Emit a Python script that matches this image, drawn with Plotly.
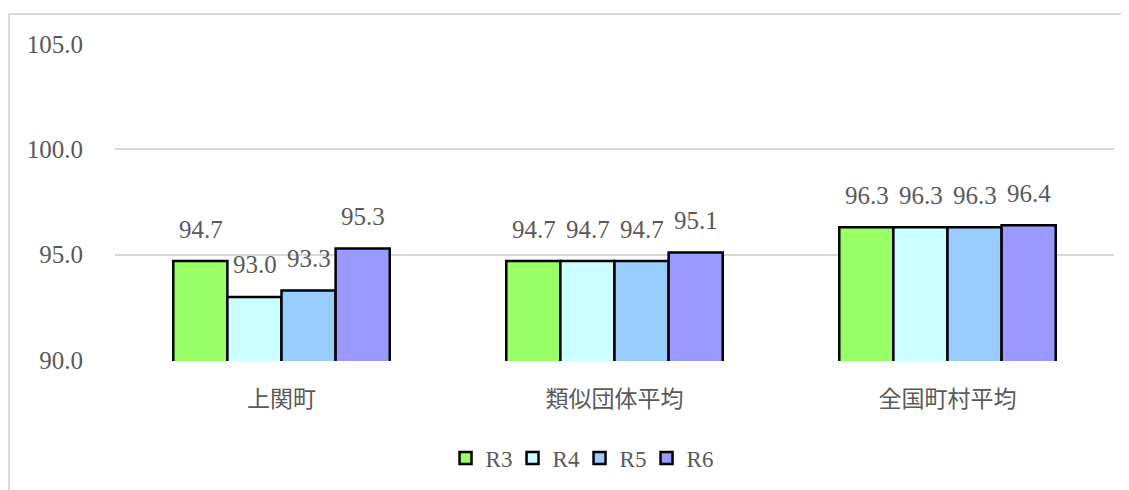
import plotly.graph_objects as go

categories = ["上関町", "類似団体平均", "全国町村平均"]
series_names = ["R3", "R4", "R5", "R6"]
r3 = [94.7, 94.7, 96.3]
r4 = [93.0, 94.7, 96.3]
r5 = [93.3, 94.7, 96.3]
r6 = [95.3, 95.1, 96.4]
series_values = [r3, r4, r5, r6]
colors = ["#99FF66", "#CCFFFF", "#99CCFF", "#9999FF"]
y_ticks = [90, 95, 100, 105]

FONT = "Liberation Serif, Noto Sans CJK JP, serif"
GREY = "#595959"

fig = go.Figure()
for name, vals, col in zip(series_names, series_values, colors):
    fig.add_trace(go.Bar(
        x=categories, y=vals, name=name,
        marker=dict(color=col, line=dict(color="black", width=2.5)),
    ))

# data labels above bars
bar_px = 54
for i, vals in enumerate(series_values):
    for c, v in zip(categories, vals):
        fig.add_annotation(
            x=c, y=v, text=f"{v:.1f}", showarrow=False,
            xshift=(i - 1.5) * bar_px, yshift=32,
            font=dict(family=FONT, size=25, color=GREY),
            xref="x", yref="y",
        )

# outer chart border
fig.add_shape(type="rect", xref="paper", yref="paper",
              x0=-0.106, x1=1.05, y0=-0.5, y1=1.091,
              line=dict(color="#D9D9D9", width=2), fillcolor="rgba(0,0,0,0)",
              layer="below")

fig.update_layout(
    width=1129, height=490,
    margin=dict(l=107, r=23, t=35, b=137),
    plot_bgcolor="white", paper_bgcolor="white",
    barmode="group", bargap=0.35, bargroupgap=0,
    font=dict(family=FONT, size=23, color=GREY),
    showlegend=True,
    legend=dict(orientation="h", x=0.465, xanchor="center", y=-0.305, yanchor="middle",
                font=dict(family=FONT, size=23, color=GREY),
                traceorder="normal", itemwidth=30,
                entrywidth=22, entrywidthmode="pixels"),
    yaxis=dict(range=[89.96, 105.04], tickvals=y_ticks, tickformat=".1f",
               showgrid=True, gridcolor="#D9D9D9", gridwidth=1.5,
               zeroline=False, showline=False, ticks="",
               ticklabelstandoff=31,
               tickfont=dict(family=FONT, size=25, color=GREY)),
    xaxis=dict(showgrid=False, showline=False, zeroline=False, ticks="",
               ticklabelstandoff=22,
               tickfont=dict(family=FONT, size=23, color=GREY)),
)

fig.write_html("out.html")
